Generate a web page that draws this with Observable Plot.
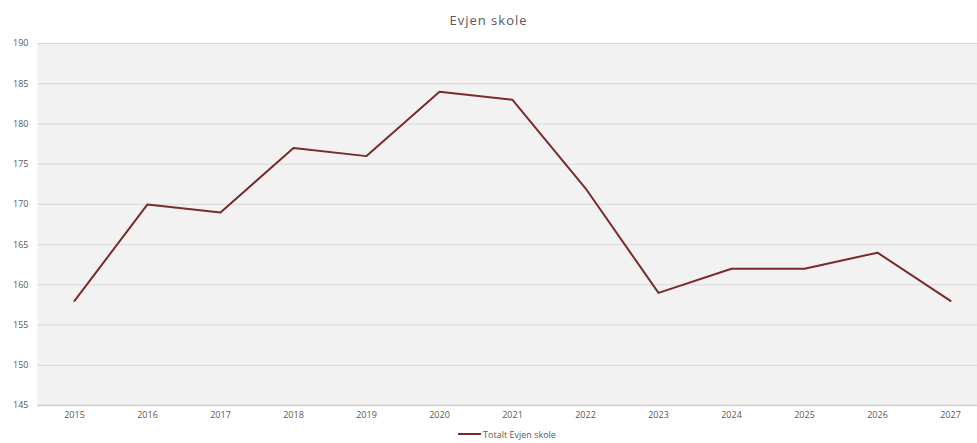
<!DOCTYPE html>
<html><head><meta charset="utf-8">
<script src="https://cdn.jsdelivr.net/npm/d3@7"></script>
<script src="https://cdn.jsdelivr.net/npm/@observablehq/plot@0.6"></script>
<style>
html,body{margin:0;padding:0;background:#fff;width:977px;height:443px;overflow:hidden;font-family:"Open Sans",sans-serif;}
#title{height:36px;line-height:40px;text-align:center;font-size:13px;color:#595959;letter-spacing:1px;}
#legend{height:18px;display:flex;justify-content:center;align-items:center;font-size:9px;color:#595959;padding-left:37px;box-sizing:border-box;}
#legend .sw{width:23px;height:2px;background:#7b2a2a;margin-right:2px;}
</style></head><body>
<div id="title">Evjen skole</div>
<div id="chart"></div>
<div id="legend"><span class="sw"></span><span>Totalt Evjen skole</span></div>
<script>
const years = ["2015","2016","2017","2018","2019","2020","2021","2022","2023","2024","2025","2026","2027"];
const totals = [158,170,169,177,176,184,183,172,159,162,162,164,158];
const yTicks = [145,150,155,160,165,170,175,180,185,190];
const seriesName = "Totalt Evjen skole";
const data = years.map((y,i)=>({year:y, value:totals[i], series:seriesName}));
const chart = Plot.plot({
  width: 977,
  height: 389,
  marginTop: 7,
  marginBottom: 20,
  marginLeft: 37,
  marginRight: 0,
  style: {fontFamily: '"Open Sans", sans-serif', fontSize: "9px", color: "#595959", background: "transparent"},
  x: {type: "point", domain: years, range: [73, 951.5], padding: 0, label: null, tickSize: 0, tickPadding: 6},
  y: {domain: [145, 190], ticks: yTicks, label: null, tickSize: 0, tickPadding: 9},
  marks: [
    Plot.frame({fill: "#f2f2f2", stroke: null}),
    Plot.gridY(yTicks, {stroke: "#d9d9d9", strokeOpacity: 1, strokeWidth: 1}),
    Plot.ruleY([145], {stroke: "#d0d0d0", strokeWidth: 1.5}),
    Plot.line(data, {x: "year", y: "value", stroke: "#7b2a2a", strokeWidth: 2}),
    Plot.axisX({tickSize: 0, tickPadding: 6, fill: "#595959"}),
    Plot.axisY({ticks: yTicks, tickSize: 0, tickPadding: 9, fill: "#595959"})
  ]
});
document.getElementById("chart").appendChild(chart);
</script>
</body></html>
